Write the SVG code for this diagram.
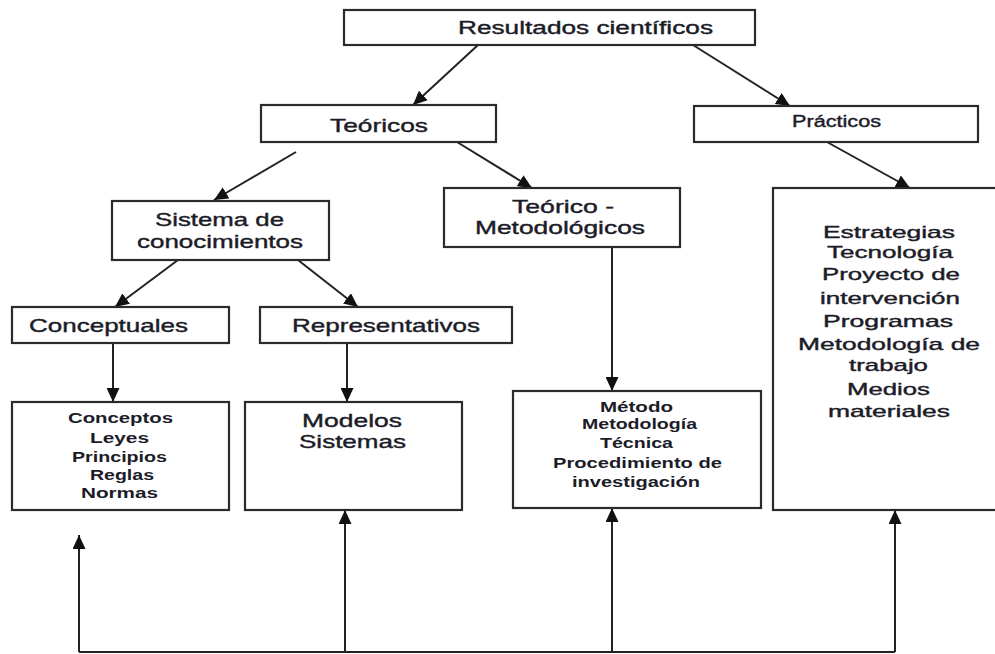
<svg xmlns="http://www.w3.org/2000/svg" width="995" height="654" viewBox="0 0 995 654">
<defs>
<style>
.box{fill:#fff;stroke:#2b2b2b;stroke-width:2.2}
.t{font-family:"Liberation Sans",Arial,sans-serif;fill:#1c1c28;stroke:#1c1c28;stroke-width:0.4}
.b{font-weight:bold;stroke-width:0}
.c{fill:none;stroke:#222;stroke-width:2}
</style>
<marker id="ah" markerUnits="userSpaceOnUse" markerWidth="15" markerHeight="13" refX="14" refY="6.5" orient="auto">
<path d="M0,0 L14,6.5 L0,13 z" fill="#111"/>
</marker>
</defs>
<rect width="995" height="654" fill="#fff"/>

<g id="connectors">
<line class="c" x1="478" y1="45" x2="413" y2="105" marker-end="url(#ah)"/>
<line class="c" x1="693" y1="45" x2="790" y2="106" marker-end="url(#ah)"/>
<line class="c" x1="296" y1="152" x2="214" y2="200" marker-end="url(#ah)"/>
<line class="c" x1="457" y1="142" x2="532" y2="188" marker-end="url(#ah)"/>
<line class="c" x1="827" y1="142" x2="910" y2="188" marker-end="url(#ah)"/>
<line class="c" x1="178" y1="260" x2="115" y2="307" marker-end="url(#ah)"/>
<line class="c" x1="298" y1="260" x2="358" y2="307" marker-end="url(#ah)"/>
<line class="c" x1="612" y1="247" x2="612" y2="391" marker-end="url(#ah)"/>
<line class="c" x1="113" y1="343" x2="113" y2="402" marker-end="url(#ah)"/>
<line class="c" x1="347" y1="343" x2="347" y2="402" marker-end="url(#ah)"/>
<line class="c" x1="79" y1="652" x2="895" y2="652"/>
<line class="c" x1="79" y1="652" x2="79" y2="535" marker-end="url(#ah)"/>
<line class="c" x1="345" y1="652" x2="345" y2="510" marker-end="url(#ah)"/>
<line class="c" x1="612" y1="652" x2="612" y2="508" marker-end="url(#ah)"/>
<line class="c" x1="895" y1="652" x2="895" y2="510" marker-end="url(#ah)"/>
</g>

<g id="resultados">
<rect class="box" x="344" y="10" width="411" height="35"/>
<text class="t" x="458" y="34" font-size="18" textLength="255" lengthAdjust="spacingAndGlyphs">Resultados científicos</text>
</g>

<g id="teoricos">
<rect class="box" x="261" y="105" width="235" height="37"/>
<text class="t" x="330" y="132" font-size="19" textLength="98" lengthAdjust="spacingAndGlyphs">Teóricos</text>
</g>

<g id="practicos">
<rect class="box" x="694" y="106" width="284" height="36"/>
<text class="t" x="792" y="127" font-size="16" textLength="89" lengthAdjust="spacingAndGlyphs">Prácticos</text>
</g>

<g id="sistema">
<rect class="box" x="112" y="201" width="217" height="59"/>
<text class="t" x="155" y="226" font-size="19" textLength="129" lengthAdjust="spacingAndGlyphs">Sistema de</text>
<text class="t" x="137" y="248" font-size="19" textLength="166" lengthAdjust="spacingAndGlyphs">conocimientos</text>
</g>

<g id="teorico-metodologicos">
<rect class="box" x="444" y="188" width="236" height="59"/>
<text class="t" x="512" y="213" font-size="19" textLength="102" lengthAdjust="spacingAndGlyphs">Teórico -</text>
<text class="t" x="475" y="234" font-size="19" textLength="170" lengthAdjust="spacingAndGlyphs">Metodológicos</text>
</g>

<g id="conceptuales">
<rect class="box" x="12" y="307" width="217" height="36"/>
<text class="t" x="29" y="332" font-size="19" textLength="159" lengthAdjust="spacingAndGlyphs">Conceptuales</text>
</g>

<g id="representativos">
<rect class="box" x="260" y="307" width="252" height="36"/>
<text class="t" x="292" y="332" font-size="19" textLength="188" lengthAdjust="spacingAndGlyphs">Representativos</text>
</g>

<g id="conceptos">
<rect class="box" x="12" y="402" width="217" height="108"/>
<text class="t b" x="68" y="423" font-size="14" textLength="105" lengthAdjust="spacingAndGlyphs">Conceptos</text>
<text class="t b" x="90" y="443" font-size="14" textLength="59" lengthAdjust="spacingAndGlyphs">Leyes</text>
<text class="t b" x="72" y="462" font-size="14" textLength="95" lengthAdjust="spacingAndGlyphs">Principios</text>
<text class="t b" x="90" y="480" font-size="14" textLength="64" lengthAdjust="spacingAndGlyphs">Reglas</text>
<text class="t b" x="81" y="498" font-size="14" textLength="77" lengthAdjust="spacingAndGlyphs">Normas</text>
</g>

<g id="modelos">
<rect class="box" x="245" y="402" width="217" height="108"/>
<text class="t" x="302" y="427" font-size="19" textLength="100" lengthAdjust="spacingAndGlyphs">Modelos</text>
<text class="t" x="299" y="448" font-size="19" textLength="107" lengthAdjust="spacingAndGlyphs">Sistemas</text>
</g>

<g id="metodo">
<rect class="box" x="513" y="391" width="248" height="117"/>
<text class="t b" x="600" y="412" font-size="14" textLength="73" lengthAdjust="spacingAndGlyphs">Método</text>
<text class="t b" x="582" y="429" font-size="14" textLength="115" lengthAdjust="spacingAndGlyphs">Metodología</text>
<text class="t b" x="600" y="448" font-size="14" textLength="73" lengthAdjust="spacingAndGlyphs">Técnica</text>
<text class="t b" x="553" y="468" font-size="14" textLength="169" lengthAdjust="spacingAndGlyphs">Procedimiento de</text>
<text class="t b" x="572" y="487" font-size="14" textLength="128" lengthAdjust="spacingAndGlyphs">investigación</text>
</g>

<g id="estrategias">
<rect class="box" x="773" y="188" width="230" height="322"/>
<text class="t" x="823" y="238" font-size="17" textLength="132" lengthAdjust="spacingAndGlyphs">Estrategias</text>
<text class="t" x="827" y="258" font-size="17" textLength="126" lengthAdjust="spacingAndGlyphs">Tecnología</text>
<text class="t" x="822" y="280" font-size="17" textLength="138" lengthAdjust="spacingAndGlyphs">Proyecto de</text>
<text class="t" x="820" y="304" font-size="17" textLength="140" lengthAdjust="spacingAndGlyphs">intervención</text>
<text class="t" x="823" y="327" font-size="17" textLength="130" lengthAdjust="spacingAndGlyphs">Programas</text>
<text class="t" x="798" y="350" font-size="17" textLength="182" lengthAdjust="spacingAndGlyphs">Metodología de</text>
<text class="t" x="849" y="371" font-size="17" textLength="79" lengthAdjust="spacingAndGlyphs">trabajo</text>
<text class="t" x="847" y="395" font-size="17" textLength="83" lengthAdjust="spacingAndGlyphs">Medios</text>
<text class="t" x="828" y="417" font-size="17" textLength="122" lengthAdjust="spacingAndGlyphs">materiales</text>
</g>
</svg>
